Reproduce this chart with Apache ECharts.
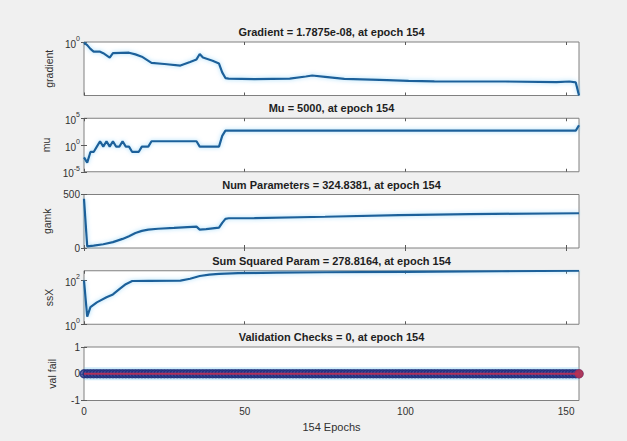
<!DOCTYPE html>
<html>
<head>
<meta charset="utf-8">
<script src="https://cdn.jsdelivr.net/npm/echarts@6/dist/echarts.min.js"></script>
<style>
html, body { margin: 0; padding: 0; background: #f0f0f0; }
#chart { width: 627px; height: 441px; }
</style>
</head>
<body>
<div id="chart"></div>
<script>
// ---- training state data ----
const lastEpoch = 154;
const epochTicks = [0, 50, 100, 150];

const gradEpochs = [0, 1, 2, 3, 5, 6, 8, 9, 14, 16, 18, 21, 25, 30, 33, 35, 36, 37, 40, 42, 43, 44, 45, 53, 64, 69, 71, 75, 81, 92, 101, 109, 131, 147, 151, 153, 154];
const gradValues = [0.8, 0.35, 0.1, 0.04, 0.04, 0.024, 0.0056, 0.024, 0.028, 0.016, 0.0075, 0.00095, 0.00065, 0.00039, 0.0013, 0.003, 0.018, 0.0056, 0.0019, 0.00075, 4e-5, 6e-6, 5e-6, 4.1e-6, 5e-6, 1e-5, 1.4e-5, 9e-6, 4.5e-6, 3.2e-6, 2.3e-6, 2e-6, 1.9e-6, 1.5e-6, 1.9e-6, 1.4e-6, 1.7875e-8];
const gradTicks = [1];

const muEpochs = [0, 1, 2, 3, 4, 5, 6, 7, 8, 9, 10, 11, 12, 13, 14, 15, 16, 17, 18, 19, 20, 21, 22, 35, 36, 42, 43, 44, 153, 154];
const muValues = [0.005, 0.0005, 0.05, 0.05, 0.5, 5, 0.5, 5, 0.5, 5, 0.5, 0.5, 5, 0.5, 0.5, 0.05, 0.05, 0.05, 0.5, 0.5, 0.5, 5, 5, 5, 0.5, 0.5, 50, 500, 500, 5000];
const muTicks = [1e-5, 1, 1e5];

const gamkEpochs = [0, 1, 3, 6, 9, 12, 14, 16, 18, 20, 23, 28, 35, 36, 38, 42, 43, 44, 45, 53, 75, 98, 120, 154];
const gamkValues = [460, 15, 22, 35, 55, 85, 110, 140, 160, 172, 180, 188, 200, 172, 176, 190, 235, 272, 278, 280, 292, 307, 317, 324.8381];
const gamkTicks = [0, 500];

const ssxEpochs = [0, 1, 2, 4, 7, 9, 11, 13, 15, 20, 30, 33, 36, 39, 42, 48, 60, 75, 100, 130, 154];
const ssxValues = [100, 2.2, 6, 10, 17, 23, 40, 68, 95, 96, 98, 120, 160, 185, 200, 215, 228, 238, 250, 265, 278.8164];
const ssxTicks = [1, 100];

const valFail = [
  0,0,0,0,0,0,0,0,0,0, 0,0,0,0,0,0,0,0,0,0, 0,0,0,0,0,0,0,0,0,0, 0,0,0,0,0,0,0,0,0,0,
  0,0,0,0,0,0,0,0,0,0, 0,0,0,0,0,0,0,0,0,0, 0,0,0,0,0,0,0,0,0,0, 0,0,0,0,0,0,0,0,0,0,
  0,0,0,0,0,0,0,0,0,0, 0,0,0,0,0,0,0,0,0,0, 0,0,0,0,0,0,0,0,0,0, 0,0,0,0,0,0,0,0,0,0,
  0,0,0,0,0,0,0,0,0,0, 0,0,0,0,0,0,0,0,0,0, 0,0,0,0,0,0,0,0,0,0, 0,0,0,0,0
];
const valTicks = [-1, 0, 1];

const panelTitles = [
  'Gradient = 1.7875e-08, at epoch 154',
  'Mu = 5000, at epoch 154',
  'Num Parameters = 324.8381, at epoch 154',
  'Sum Squared Param = 278.8164, at epoch 154',
  'Validation Checks = 0, at epoch 154'
];
const yNames = ['gradient', 'mu', 'gamk', 'ssX', 'val fail'];
const xName = '154 Epochs';

// ---- layout ----
const FONT = '"Liberation Sans", Arial, sans-serif';
const TEXT = '#303030';
const LEFT = 84, RIGHT = 48, PANEL_H = 53.5;
const tops = [42, 118.25, 194.5, 270.75, 347];
const LINE_BLUE = '#1d609a';

const pair = (xs, ys) => xs.map((x, i) => [x, ys[i]]);
const powLabel = v => '{b|10}{s|' + Math.round(Math.log10(v)) + '}';

const panels = [
  { type: 'log', min: gradValues[gradValues.length - 1], max: 1, ticks: gradTicks, fmt: powLabel },
  { type: 'log', min: 1e-5, max: 1e5, ticks: muTicks, fmt: powLabel },
  { type: 'value', min: 0, max: 500, ticks: gamkTicks, fmt: v => String(v) },
  { type: 'log', min: 1, max: ssxValues[ssxValues.length - 1], ticks: ssxTicks, fmt: powLabel },
  { type: 'value', min: -1, max: 1, ticks: valTicks, fmt: v => String(v) }
];

const tickStyle = { inside: true, length: 3, lineStyle: { color: '#5a5a5a', width: 1 } };
const richText = {
  b: { fontSize: 10, fontFamily: FONT, color: TEXT, lineHeight: 14, verticalAlign: 'bottom' },
  s: { fontSize: 7, fontFamily: FONT, color: TEXT, lineHeight: 14, verticalAlign: 'top' }
};

const grid = [], xAxis = [], yAxis = [], graphic = [];
tops.forEach((t, i) => {
  grid.push({ left: LEFT, right: RIGHT, top: t, height: PANEL_H, show: true,
              backgroundColor: '#ffffff', borderColor: '#808080', borderWidth: 1 });
  const last = i === tops.length - 1;
  ['bottom', 'top'].forEach(pos => {
    xAxis.push({
      type: 'value', gridIndex: i, position: pos, min: 0, max: lastEpoch,
      axisLine: { show: false }, splitLine: { show: false },
      axisTick: Object.assign({ customValues: epochTicks }, tickStyle),
      axisLabel: {
        show: last && pos === 'bottom', customValues: epochTicks, margin: 6,
        fontSize: 10, fontFamily: FONT, color: TEXT
      },
      name: last && pos === 'bottom' ? xName : '',
      nameLocation: 'middle', nameGap: 21,
      nameTextStyle: { fontSize: 11, fontFamily: FONT, color: TEXT }
    });
  });
  const p = panels[i];
  ['left', 'right'].forEach(pos => {
    yAxis.push({
      type: p.type, gridIndex: i, position: pos, min: p.min, max: p.max,
      axisLine: { show: false }, splitLine: { show: false },
      axisTick: Object.assign({ customValues: p.ticks }, tickStyle),
      axisLabel: {
        show: pos === 'left', customValues: p.ticks, margin: 4,
        fontSize: 10, fontFamily: FONT, color: TEXT, formatter: p.fmt, rich: richText
      },
      name: pos === 'left' ? yNames[i] : '',
      nameLocation: 'middle', nameGap: 27,
      nameTextStyle: { fontSize: 10.5, fontFamily: FONT, color: TEXT }
    });
  });
  graphic.push({
    type: 'text', x: LEFT + (627 - LEFT - RIGHT) / 2, y: t - 10,
    style: { text: panelTitles[i], align: 'center', verticalAlign: 'middle',
             font: 'bold 11px ' + FONT, fill: '#1e1e1e' }
  });
});

const lineSeries = (idx, data) => ({
  type: 'line', xAxisIndex: idx * 2, yAxisIndex: idx * 2, data,
  showSymbol: false, symbol: 'none', animation: false, silent: true,
  lineStyle: { color: LINE_BLUE, width: 2.2, shadowColor: 'rgba(90,190,245,0.6)', shadowBlur: 4 }
});

const valData = valFail.map((v, i) => [i, v]);
const series = [
  lineSeries(0, pair(gradEpochs, gradValues)),
  lineSeries(1, pair(muEpochs, muValues)),
  lineSeries(2, pair(gamkEpochs, gamkValues)),
  lineSeries(3, pair(ssxEpochs, ssxValues)),
  // soft glow under the validation-check markers
  {
    type: 'line', xAxisIndex: 8, yAxisIndex: 8, data: valData, animation: false, silent: true,
    symbol: 'none', z: 1, lineStyle: { color: 'rgba(120,200,240,0.35)', width: 13 }
  },
  // circle markers at every epoch
  {
    type: 'scatter', xAxisIndex: 8, yAxisIndex: 8, data: valData, animation: false, silent: true,
    symbol: 'circle', symbolSize: 8, z: 2,
    itemStyle: { color: '#3a4699', borderColor: '#1c2c78', borderWidth: 1.5 }
  },
  // red trace through the marker centres
  {
    type: 'line', xAxisIndex: 8, yAxisIndex: 8, data: valData, animation: false, silent: true,
    symbol: 'none', showSymbol: false, z: 10, lineStyle: { color: '#b0305a', width: 2 }
  },
  {
    type: 'scatter', xAxisIndex: 8, yAxisIndex: 8, animation: false, silent: true, z: 11,
    data: [[lastEpoch, valFail[valFail.length - 1]]],
    symbol: 'circle', symbolSize: 9, itemStyle: { color: '#c3304c' }
  }
];

const chart = echarts.init(document.getElementById('chart'), null, { renderer: 'svg' });
chart.setOption({
  backgroundColor: '#f0f0f0',
  animation: false,
  grid, xAxis, yAxis, series, graphic
});
</script>
</body>
</html>
